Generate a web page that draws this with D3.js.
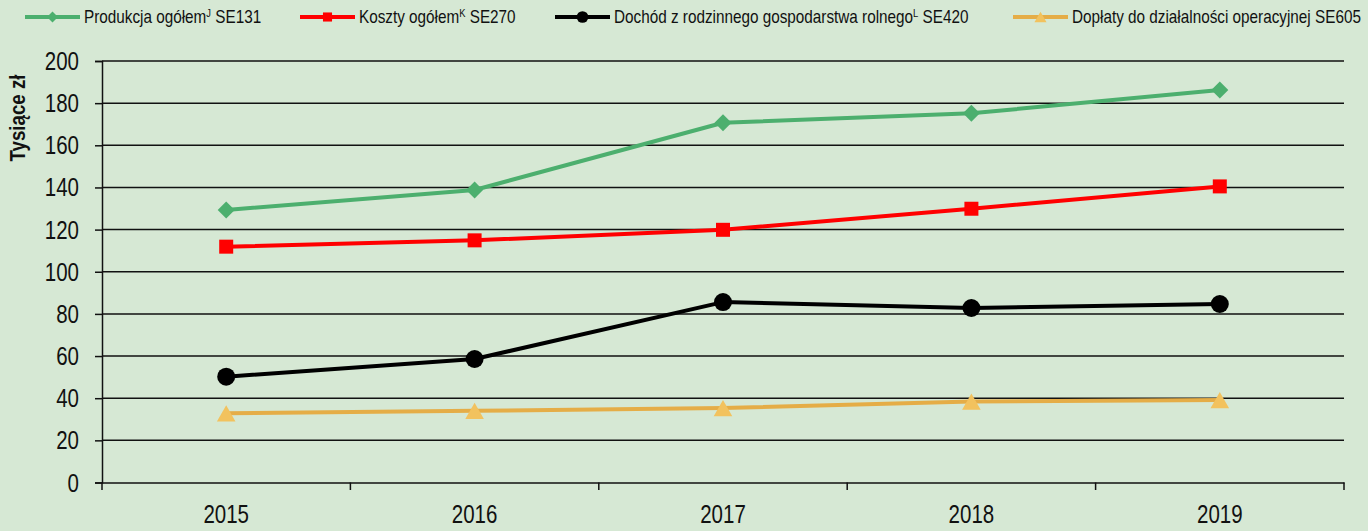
<!DOCTYPE html>
<html><head><meta charset="utf-8">
<script src="https://cdn.jsdelivr.net/npm/d3@7"></script>
<style>
html,body{margin:0;padding:0;background:#d6e8d4;}
svg{display:block;font-family:"Liberation Sans",Arial,sans-serif;}
</style></head><body>
<svg id="chart" width="1368" height="531"></svg>
<script>
const years = ["2015","2016","2017","2018","2019"];
const yTicks = [0,20,40,60,80,100,120,140,160,180,200];
const produkcja = [129.3,138.8,170.7,175.2,186.2];
const koszty = [111.9,114.9,119.9,129.9,140.5];
const dochod = [50.2,58.6,85.6,82.8,84.7];
const doplaty = [32.8,34.0,35.3,38.4,39.1];
const seriesNames = ["Produkcja ogółem","Koszty ogółem","Dochód z rodzinnego gospodarstwa rolnego","Dopłaty do działalności operacyjnej SE605"];
const seriesSup = ["J","K","L",""];
const seriesSuffix = [" SE131"," SE270"," SE420",""];
const seriesColors = ["#4caf6e","#ff0000","#000000","#e5ad47"];
const markerColors = ["#4caf6e","#ff0000","#000000","#f2c25e"];
const seriesData = [produkcja, koszty, dochod, doplaty];

const NARROW = 0.82;
const svg = d3.select("#chart");
svg.append("rect").attr("width",1368).attr("height",531).attr("fill","#d6e8d4");

const x = d3.scaleBand().domain(years).range([102,1344]);
const y = d3.scaleLinear().domain([0,200]).range([482.5,61]);

function marker(sel, s, scale){
  const k = scale||1;
  if(s===0) sel.attr("d",d3.symbol().type(d3.symbolSquare).size(144*k*k)).attr("transform",(sel.attr("transform")||"")+" rotate(45)");
  else if(s===1) sel.attr("d",d3.symbol().type(d3.symbolSquare).size(196*k*k));
  else if(s===2) sel.attr("d",d3.symbol().type(d3.symbolCircle).size(254*k*k));
  else sel.attr("d",d3.symbol().type(d3.symbolTriangle).size(150*k*k)).attr("transform",(sel.attr("transform")||"")+` translate(0,${2.7*k})`);
  sel.attr("fill",markerColors[s]);
}

// gridlines
svg.append("g").selectAll("line").data(yTicks.filter(d=>d>0)).join("line")
  .attr("x1",102).attr("x2",1344).attr("y1",d=>y(d)).attr("y2",d=>y(d))
  .attr("stroke","#111").attr("stroke-width",1.5);

// y axis
const yAxis = svg.append("g").attr("transform","translate(102,0)")
  .call(d3.axisLeft(y).tickValues(yTicks).tickSize(7).tickFormat(""));
yAxis.select(".domain").attr("stroke","#111").attr("stroke-width",1.5);
yAxis.selectAll(".tick line").attr("stroke","#111").attr("stroke-width",1.5);
svg.append("g").selectAll("text").data(yTicks).join("text")
  .attr("transform",d=>`translate(79,${y(d)+9}) scale(${NARROW},1)`)
  .attr("text-anchor","end").attr("font-size",25).attr("fill","#111").text(d=>d);

// x axis
const xAxis = svg.append("g").attr("transform","translate(0,482.5)")
  .call(d3.axisBottom(x).tickSize(0).tickFormat(""));
xAxis.select(".domain").attr("stroke","#111").attr("stroke-width",1.5);
const bounds = years.map(d=>x(d)).concat([x.range()[1]]);
svg.append("g").selectAll("line").data(bounds).join("line")
  .attr("x1",d=>d).attr("x2",d=>d).attr("y1",482.5).attr("y2",490)
  .attr("stroke","#111").attr("stroke-width",1.5);
const cx = d=>x(d)+x.bandwidth()/2;
svg.append("g").selectAll("text").data(years).join("text")
  .attr("transform",d=>`translate(${cx(d)},523) scale(${NARROW},1)`)
  .attr("text-anchor","middle").attr("font-size",25).attr("fill","#111").text(d=>d);

// y title
svg.append("text").attr("transform","translate(25,118) rotate(-90) scale(0.85,1)")
  .attr("text-anchor","middle").attr("font-size",22).attr("font-weight","bold")
  .attr("fill","#111").text("Tysiące zł");

const line = d3.line().x((d,i)=>cx(years[i])).y(d=>y(d));

seriesData.forEach((vals,s)=>{
  svg.append("path").datum(vals).attr("d",line).attr("fill","none")
    .attr("stroke",seriesColors[s]).attr("stroke-width",4).attr("stroke-linejoin","round");
});
seriesData.forEach((vals,s)=>{
  svg.append("g").selectAll("path").data(vals).join("path")
    .attr("transform",(d,i)=>`translate(${cx(years[i])},${y(d)})`)
    .call(sel=>sel.each(function(){ marker(d3.select(this), s, 1); }));
});

// legend
const legX = [25,300,555,1013];
seriesNames.forEach((name,s)=>{
  const g = svg.append("g").attr("transform",`translate(${legX[s]},17)`);
  g.append("line").attr("x1",0).attr("x2",55).attr("stroke",seriesColors[s]).attr("stroke-width",4);
  g.append("path").attr("transform","translate(27.5,0)").call(sel=>marker(sel,s,0.65));
  const t = g.append("text").attr("transform",`translate(59,6) scale(0.85,1)`).attr("font-size",18).attr("fill","#111");
  t.append("tspan").text(name);
  if(seriesSup[s]) t.append("tspan").attr("font-size",11).attr("dy",-6).text(seriesSup[s]);
  if(seriesSuffix[s]) t.append("tspan").attr("dy",seriesSup[s]?6:0).text(seriesSuffix[s]);
});
</script>
</body></html>
